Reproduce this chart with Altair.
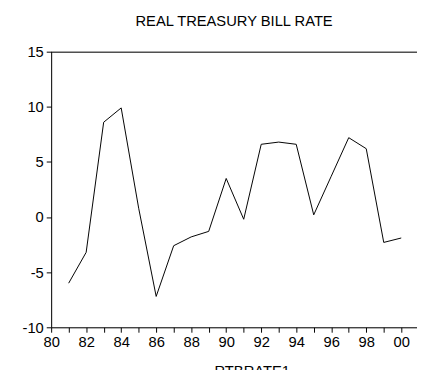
import altair as alt
import pandas as pd

years = list(range(1981, 2001))
rtbrate = [-6.0, -3.2, 8.6, 9.9, 0.8, -7.2, -2.6, -1.8, -1.3, 3.5,
           -0.2, 6.6, 6.8, 6.6, 0.2, 3.7, 7.2, 6.2, -2.3, -1.9]
y_ticks = [-10, -5, 0, 5, 10, 15]
x_ticks = list(range(1980, 2001))
title_text = "REAL TREASURY BILL RATE"

df = pd.DataFrame({"year": years, "value": rtbrate})
one = pd.DataFrame({"t": [title_text]})

W = 373
H = 281
FONT = "Liberation Sans"

x_scale = alt.Scale(domain=[1980, 2000.9], nice=False, zero=False)
y_scale = alt.Scale(domain=[-10, 15], nice=False, zero=False)

line = alt.Chart(df).mark_line(color="black", strokeWidth=1).encode(
    x=alt.X("year:Q", scale=x_scale,
            axis=alt.Axis(values=x_ticks, title="RTBRATE1",
                          labelExpr="datum.value % 2 == 0 ? substring('' + (100 + datum.value % 100), 1, 3) : ''",
                          grid=False, tickSize=5, labelPadding=3,
                          labelFlush=False, labelOverlap=False,
                          labelFontSize=15, labelFont=FONT, labelColor="black",
                          titleX=204.5, titleY=37, titleBaseline="top",
                          titleFontWeight="normal", titleFontSize=15,
                          titleFont=FONT, titleColor="black",
                          domainColor="black", tickColor="black")),
    y=alt.Y("value:Q", scale=y_scale,
            axis=alt.Axis(values=y_ticks, title=None, grid=False,
                          labelExpr="'' + datum.value",
                          tickSize=5, labelPadding=3, labelOverlap=False,
                          labelFlush=False, labelFontSize=15, labelFont=FONT,
                          labelColor="black", domainColor="black",
                          tickColor="black")),
)

top = alt.Chart(one).mark_rule(color="black", strokeWidth=1).encode(
    x=alt.value(0), x2=alt.value(W), y=alt.value(0.5)
)

ttl = alt.Chart(one).mark_text(
    font=FONT, fontSize=15, color="black", align="center", baseline="alphabetic"
).encode(text="t:N", x=alt.value(186.5), y=alt.value(-26.3))

chart = alt.layer(line, top, ttl).properties(
    width=W, height=H,
    padding={"left": 44, "top": 41, "right": 0, "bottom": 40},
    autosize=alt.AutoSizeParams(type="none"),
).configure_view(stroke=None).configure(background="white")

chart.save("out.html", embed_options={"renderer": "svg", "actions": False})
